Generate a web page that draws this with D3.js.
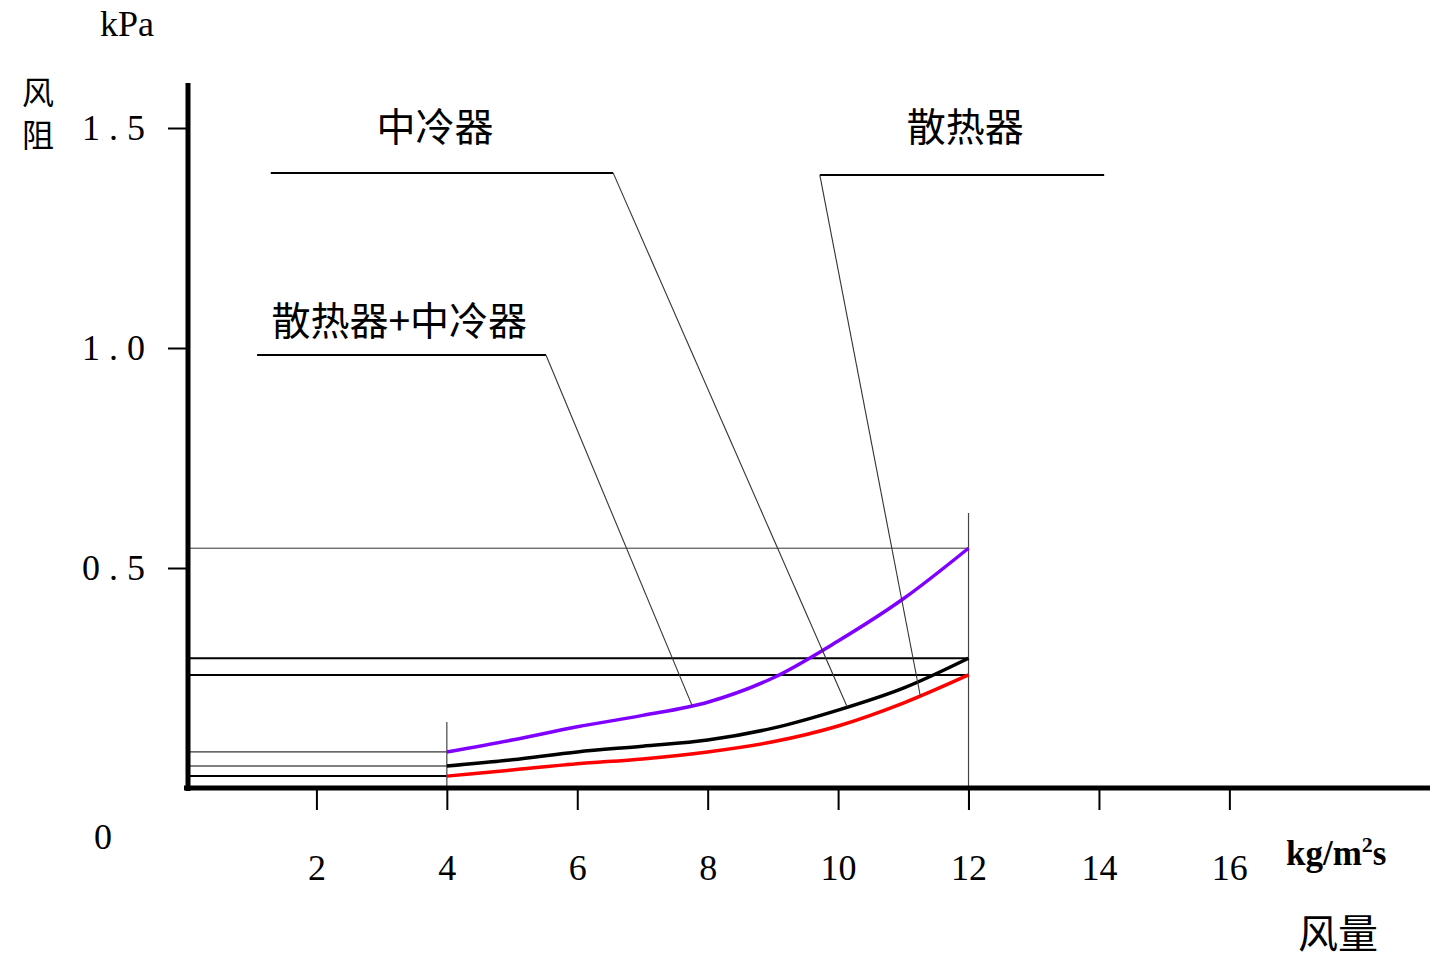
<!DOCTYPE html>
<meta charset="utf-8">
<head>
	<title>风阻 - 风量</title>
</head>
<style>
body { margin: 0; background: #fff; }
svg { display: block; background: #fff; }
.num { font-family: "Liberation Serif", "DejaVu Serif", serif; fill: #000; }
.cjk { font-family: "Noto Sans CJK SC", sans-serif; fill: #000; }
.tick text { font-family: "Liberation Serif", "DejaVu Serif", serif; font-size: 36px; fill: #000; }
.tick line { stroke: #000; stroke-width: 2; }
.domain { display: none; }
</style>
<body>
<svg id="chart" width="1436" height="979"></svg>

<script src="https://cdnjs.cloudflare.com/ajax/libs/d3/7.8.5/d3.min.js"></script>
<script>

// 风量 (kg/m2s)
var flow = [4, 5, 6, 7, 8, 9, 10, 11, 12];
// 风阻 (kPa)
var bothDrop = [0.082, 0.109, 0.139, 0.165, 0.195, 0.25, 0.334, 0.43, 0.545];   // 散热器+中冷器
var coolerDrop = [0.05, 0.064, 0.082, 0.095, 0.109, 0.136, 0.177, 0.227, 0.295]; // 中冷器
var radDrop = [0.027, 0.041, 0.055, 0.066, 0.082, 0.105, 0.141, 0.193, 0.257];   // 散热器

var xTicks = [2, 4, 6, 8, 10, 12, 14, 16];
var yTicks = [0.5, 1.0, 1.5];

var seriesNames = ['散热器+中冷器', '中冷器', '散热器'];
var seriesColors = ['#8000ff', '#000000', '#ff0000'];

// 标注位置 (数据坐标)
var labelX = [3.27, 3.82, 11.95];
var labelY = [1.03, 1.47, 1.47];
var leadStart = [1.09, 1.3, 9.72];
var leadBend = [5.52, 6.55, 9.72];
var leadEnd = [14.08, 14.08, 14.08];
var leadY = [0.984, 1.398, 1.393];
var leadHit = [7.76, 10.14, 11.26];

var svg = d3.select('#chart');

var x = d3.scaleLinear().domain([0, 19]).range([186, 1425]);
var y = d3.scaleLinear().domain([0, 1.6]).range([788, 84]);

var series = [bothDrop, coolerDrop, radDrop];

// 参考线
var g = svg.append('g');
series.forEach(function(s, i) {
	var first = s[0], last = s[s.length - 1];
	g.append('line')
		.attr('x1', x(0)).attr('x2', x(flow[flow.length - 1]))
		.attr('y1', y(last)).attr('y2', y(last))
		.attr('stroke', i == 0 ? '#333' : '#000')
		.attr('stroke-width', i == 0 ? 1 : 2);
	g.append('line')
		.attr('x1', x(0)).attr('x2', x(flow[0]))
		.attr('y1', y(first)).attr('y2', y(first))
		.attr('stroke', '#000')
		.attr('stroke-width', i == 2 ? 2 : 1);
});

g.append('line')
	.attr('x1', x(4)).attr('x2', x(4))
	.attr('y1', y(0.15)).attr('y2', y(0) + 2)
	.attr('stroke', '#444').attr('stroke-width', 1.2);
g.append('line')
	.attr('x1', x(12)).attr('x2', x(12))
	.attr('y1', y(0.625)).attr('y2', y(0) + 22)
	.attr('stroke', '#444').attr('stroke-width', 1.2);

// 曲线
var line = d3.line()
	.x(function(d) { return x(d[0]); })
	.y(function(d) { return y(d[1]); })
	.curve(d3.curveMonotoneX);

series.forEach(function(s, i) {
	svg.append('path')
		.datum(flow.map(function(f, j) { return [f, s[j]]; }))
		.attr('d', line)
		.attr('fill', 'none')
		.attr('stroke', seriesColors[i])
		.attr('stroke-width', 3.5);
});

// 标注
function valueAt(s, fx) {
	var k = d3.bisectRight(flow, fx) - 1;
	k = Math.max(0, Math.min(flow.length - 2, k));
	var t = (fx - flow[k]) / (flow[k + 1] - flow[k]);
	return s[k] + (s[k + 1] - s[k]) * t;
}

seriesNames.forEach(function(name, i) {
	var xEnd = i == 2 ? leadEnd[i] : leadBend[i];
	svg.append('line')
		.attr('x1', x(leadStart[i])).attr('x2', x(xEnd))
		.attr('y1', y(leadY[i])).attr('y2', y(leadY[i]))
		.attr('stroke', '#000').attr('stroke-width', 2);
	svg.append('line')
		.attr('x1', x(leadBend[i])).attr('y1', y(leadY[i]))
		.attr('x2', x(leadHit[i])).attr('y2', y(valueAt(series[i], leadHit[i])))
		.attr('stroke', '#333').attr('stroke-width', 1.1);
	svg.append('text')
		.attr('class', 'cjk')
		.attr('x', x(labelX[i])).attr('y', y(labelY[i]))
		.attr('text-anchor', 'middle')
		.style('font-size', '39px')
		.text(name);
});

// 坐标轴
svg.append('g')
	.attr('transform', 'translate(0,' + (y(0) + 2) + ')')
	.call(d3.axisBottom(x).tickValues(xTicks).tickSize(20).tickPadding(44).tickSizeOuter(0))
	.selectAll('.tick text').attr('dy', '0.71em');

svg.append('g')
	.attr('transform', 'translate(' + (x(0)) + ',0)')
	.call(d3.axisLeft(y).tickValues(yTicks).tickSize(18).tickPadding(14)
		.tickFormat(d3.format('.1f')).tickSizeOuter(0))
	.selectAll('.tick text').style('letter-spacing', '9px');

svg.append('line')
	.attr('x1', x(0) + 2).attr('x2', x(0) + 2)
	.attr('y1', y.range()[1] - 1).attr('y2', y(0) + 3)
	.attr('stroke', '#000').attr('stroke-width', 5);
svg.append('line')
	.attr('x1', x(0) - 2).attr('x2', 1430)
	.attr('y1', y(0)).attr('y2', y(0))
	.attr('stroke', '#000').attr('stroke-width', 5);

svg.append('text').attr('class', 'num')
	.attr('x', 103).attr('y', 849).attr('text-anchor', 'middle')
	.style('font-size', '36px').text('0');

svg.append('text').attr('class', 'num')
	.attr('x', 127).attr('y', 36).attr('text-anchor', 'middle')
	.style('font-size', '36px').text('kPa');

svg.append('text').attr('class', 'cjk')
	.attr('x', 38).attr('y', 104).attr('text-anchor', 'middle')
	.style('font-size', '32px').text('风');
svg.append('text').attr('class', 'cjk')
	.attr('x', 38).attr('y', 147).attr('text-anchor', 'middle')
	.style('font-size', '32px').text('阻');

var unit = svg.append('text').attr('class', 'num')
	.attr('x', 1286).attr('y', 865)
	.style('font-size', '35px').style('font-weight', 'bold');
unit.append('tspan').text('kg/m');
unit.append('tspan').attr('dy', -13).style('font-size', '22px').text('2');
unit.append('tspan').attr('dy', 13).text('s');

svg.append('text').attr('class', 'cjk')
	.attr('x', 1338).attr('y', 948).attr('text-anchor', 'middle')
	.style('font-size', '40px').text('风量');

</script>
</body>
</html>
